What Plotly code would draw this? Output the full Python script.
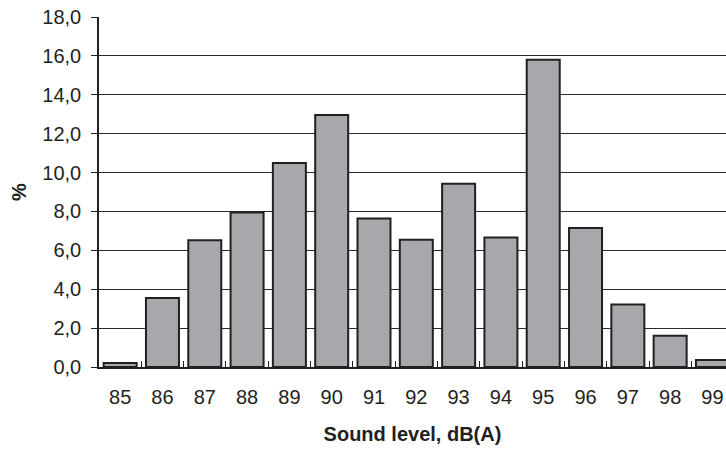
import plotly.graph_objects as go

categories = ["85", "86", "87", "88", "89", "90", "91", "92", "93", "94", "95", "96", "97", "98", "99"]
percent = [0.2, 3.55, 6.52, 7.95, 10.49, 12.96, 7.64, 6.54, 9.43, 6.66, 15.8, 7.15, 3.22, 1.61, 0.36]
y_ticks = [0, 2, 4, 6, 8, 10, 12, 14, 16, 18]

FONT = "Liberation Sans, Arial, sans-serif"
INK = "#231f20"

fig = go.Figure(go.Bar(
    x=categories, y=percent,
    marker=dict(color="#a7a8ac", line=dict(color=INK, width=2)),
))

fig.update_layout(
    width=726, height=450,
    margin=dict(l=99, r=0, t=17, b=83),
    plot_bgcolor="white", paper_bgcolor="white",
    bargap=0.22,
    separators=",.",
    showlegend=False,
    font=dict(family=FONT, size=20, color=INK),
)
fig.update_xaxes(
    type="category",
    range=[-0.5, 14.32],
    showline=True, linecolor=INK, linewidth=2,
    ticks="inside", tickson="boundaries", ticklen=6, tickcolor=INK, tickwidth=1,
    showgrid=False,
    ticklabelstandoff=11,
    title=dict(text="<b>Sound level, dB(A)</b>", font=dict(size=20), standoff=20),
)
fig.update_yaxes(
    range=[0, 18],
    tickvals=y_ticks,
    tickformat=".1f",
    showline=True, linecolor=INK, linewidth=1.5,
    ticks="outside", ticklen=6, tickcolor=INK, tickwidth=1,
    showgrid=True, gridcolor="#2b2b2b", gridwidth=1,
    zeroline=False,
    ticklabelstandoff=6,
    title=dict(text="<b>%</b>", font=dict(size=20), standoff=10),
)

fig.write_html("out.html")
